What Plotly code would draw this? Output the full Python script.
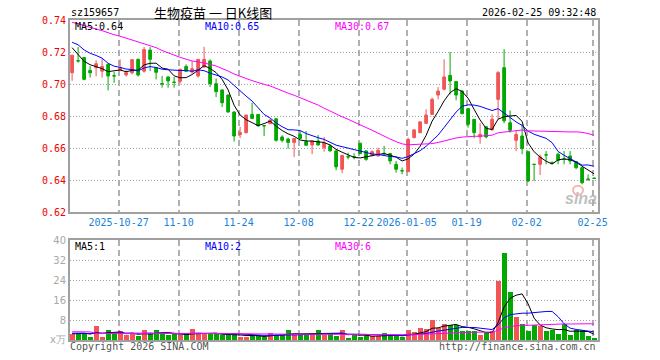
import plotly.graph_objects as go
import pandas as pd

# ---------------- data ----------------
tick_labels = ["2025-10-27", "11-10", "11-24", "12-08", "12-22", "2026-01-05", "01-19", "02-02", "02-25"]
tick_index = [8, 18, 28, 38, 48, 56, 66, 76, 87]

opens = [0.7070, 0.7146, 0.7165, 0.7085, 0.7102, 0.7080, 0.7123, 0.7052, 0.7088, 0.7057,
         0.7070, 0.7154, 0.7080, 0.7212, 0.7102, 0.7003, 0.7044, 0.7012, 0.7017, 0.7110,
         0.7075, 0.7050, 0.7106, 0.7144, 0.7002, 0.6963, 0.6931, 0.6825, 0.6685, 0.6696,
         0.6810, 0.6810, 0.6740, 0.6752, 0.6783, 0.6669, 0.6656, 0.6635, 0.6685, 0.6640,
         0.6619, 0.6644, 0.6602, 0.6613, 0.6582, 0.6467, 0.6546, 0.6546, 0.6630, 0.6582,
         0.6554, 0.6550, 0.6567, 0.6565, 0.6498, 0.6459, 0.6452, 0.6665, 0.6696, 0.6754,
         0.6810, 0.6931, 0.6967, 0.7054, 0.7015, 0.6956, 0.6846, 0.6779, 0.6669, 0.6733,
         0.6713, 0.6904, 0.7102, 0.6758, 0.6648, 0.6675, 0.6577, 0.6499, 0.6498, 0.6558,
         0.6510, 0.6561, 0.6531, 0.6550, 0.6515, 0.6477, 0.6406, 0.6412]
highs = [0.7180, 0.7231, 0.7170, 0.7113, 0.7148, 0.7160, 0.7125, 0.7075, 0.7154, 0.7085,
         0.7154, 0.7160, 0.7231, 0.7231, 0.7106, 0.7050, 0.7048, 0.7044, 0.7095, 0.7123,
         0.7144, 0.7154, 0.7233, 0.7154, 0.7035, 0.6965, 0.6935, 0.6830, 0.6733, 0.6808,
         0.6883, 0.6812, 0.6740, 0.6780, 0.6785, 0.6680, 0.6665, 0.6662, 0.6706, 0.6706,
         0.6644, 0.6681, 0.6669, 0.6623, 0.6590, 0.6556, 0.6571, 0.6567, 0.6632, 0.6585,
         0.6585, 0.6602, 0.6613, 0.6570, 0.6519, 0.6478, 0.6665, 0.6717, 0.6767, 0.6842,
         0.6915, 0.6981, 0.7154, 0.7200, 0.7017, 0.6960, 0.6848, 0.6780, 0.6756, 0.6735,
         0.6811, 0.7081, 0.7217, 0.6835, 0.6711, 0.6748, 0.6578, 0.6499, 0.6560, 0.6581,
         0.6515, 0.6571, 0.6581, 0.6581, 0.6519, 0.6480, 0.6435, 0.6414]
lows = [0.7020, 0.7133, 0.7023, 0.7040, 0.7048, 0.7040, 0.6960, 0.7008, 0.7080, 0.7046,
        0.7060, 0.7046, 0.7071, 0.7081, 0.7029, 0.6977, 0.6977, 0.6977, 0.7002, 0.7077,
        0.7065, 0.7040, 0.7100, 0.6981, 0.6919, 0.6856, 0.6821, 0.6640, 0.6662, 0.6690,
        0.6780, 0.6735, 0.6675, 0.6750, 0.6640, 0.6635, 0.6596, 0.6544, 0.6655, 0.6615,
        0.6561, 0.6615, 0.6577, 0.6578, 0.6461, 0.6442, 0.6529, 0.6529, 0.6562, 0.6520,
        0.6548, 0.6548, 0.6550, 0.6498, 0.6446, 0.6436, 0.6450, 0.6660, 0.6692, 0.6750,
        0.6808, 0.6904, 0.6961, 0.6935, 0.6898, 0.6810, 0.6727, 0.6661, 0.6627, 0.6661,
        0.6710, 0.6780, 0.6755, 0.6696, 0.6581, 0.6561, 0.6388, 0.6394, 0.6431, 0.6498,
        0.6498, 0.6498, 0.6498, 0.6498, 0.6467, 0.6373, 0.6394, 0.6408]
closes = [0.7180, 0.7144, 0.7029, 0.7070, 0.7127, 0.7110, 0.7050, 0.7050, 0.7102, 0.7071,
          0.7152, 0.7056, 0.7215, 0.7154, 0.7073, 0.7000, 0.7019, 0.7010, 0.7092, 0.7079,
          0.7095, 0.7154, 0.7154, 0.7002, 0.6952, 0.6883, 0.6825, 0.6675, 0.6696, 0.6806,
          0.6785, 0.6738, 0.6738, 0.6775, 0.6648, 0.6648, 0.6635, 0.6660, 0.6660, 0.6617,
          0.6644, 0.6619, 0.6631, 0.6582, 0.6482, 0.6554, 0.6544, 0.6544, 0.6565, 0.6529,
          0.6577, 0.6586, 0.6565, 0.6519, 0.6467, 0.6457, 0.6654, 0.6713, 0.6763, 0.6806,
          0.6904, 0.6956, 0.7044, 0.7019, 0.6931, 0.6815, 0.6748, 0.6696, 0.6685, 0.6669,
          0.6780, 0.7071, 0.6770, 0.6711, 0.6685, 0.6596, 0.6394, 0.6497, 0.6544, 0.6556,
          0.6508, 0.6523, 0.6529, 0.6519, 0.6477, 0.6383, 0.6404, 0.6410]
volumes = [2.5, 2.9, 2.9, 1.1, 5.4, 1.1, 3.8, 2.5, 3.4, 1.8,
           2.2, 1.5, 3.8, 2.5, 3.8, 2.9, 1.8, 2.2, 1.8, 2.2,
           4.2, 2.5, 2.5, 2.5, 2.2, 1.8, 2.1, 2.9, 1.1, 1.1,
           1.8, 1.8, 1.1, 2.9, 2.1, 2.1, 3.8, 1.8, 2.5, 2.1,
           2.5, 3.8, 1.8, 2.9, 1.4, 3.8, 0.7, 2.5, 1.1, 1.8,
           1.5, 1.5, 2.9, 2.1, 1.4, 1.1, 3.8, 3.1, 4.6, 4.2,
           7.8, 4.7, 6.5, 6.1, 6.1, 3.4, 3.4, 3.4, 1.8, 2.9,
           3.5, 23.4, 34.6, 19.1, 9.1, 6.2, 3.5, 5.9, 5.4, 3.5,
           3.8, 2.2, 6.2, 1.8, 3.8, 3.8, 1.4, 0.7]

# estimated history before the visible window (only used for the moving averages)
hist_closes = [0.736, 0.740, 0.744, 0.739, 0.743, 0.745, 0.741, 0.738, 0.742, 0.747,
               0.752, 0.749, 0.746, 0.750, 0.754, 0.748, 0.745, 0.747, 0.743, 0.744,
               0.7304, 0.735, 0.728, 0.726, 0.728, 0.737, 0.723, 0.7175, 0.718]
hist_volumes = [2.8, 3.1, 2.4, 24.0, 3.5, 2.6, 2.2, 2.9, 2.4, 3.0,
                2.5, 2.1, 2.7, 2.9, 2.3, 2.6, 2.2, 2.8, 2.5, 2.5,
                2.1, 2.6, 2.0, 2.5, 2.3, 3.0, 2.6, 2.9, 2.5]

price_legend = ["MA5:0.64", "MA10:0.65", "MA30:0.67"]
vol_legend = ["MA5:1", "MA10:2", "MA30:6"]
price_ticks = [0.62, 0.64, 0.66, 0.68, 0.70, 0.72, 0.74]
vol_ticks = [0, 8, 16, 24, 32, 40]
vol_ticktext = ["x万", "8", "16", "24", "32", "40"]

# ---------------- styling ----------------
RED = "#f25555"
GREEN = "#00a800"
MA_COLORS = ["#000000", "#0000ff", "#ff00ff"]
MONO = "DejaVu Sans Mono"

n = len(closes)
idx = list(range(n))
nh = len(hist_closes)
allc = pd.Series(hist_closes + closes)
allv = pd.Series(hist_volumes + volumes)
ma_p = [allc.rolling(w).mean().iloc[nh:].tolist() for w in (5, 10, 30)]
ma_v = [allv.rolling(w).mean().iloc[nh:].tolist() for w in (5, 10, 30)]

vol_colors = [RED if c >= o else GREEN for o, c in zip(opens, closes)]

fig = go.Figure()
fig.add_trace(go.Candlestick(
    x=idx, open=opens, high=highs, low=lows, close=closes,
    increasing=dict(line=dict(color=RED, width=1), fillcolor=RED),
    decreasing=dict(line=dict(color=GREEN, width=1), fillcolor=GREEN),
    whiskerwidth=0, xaxis="x", yaxis="y", hoverinfo="skip", showlegend=False))
for m, col in zip(ma_p, MA_COLORS):
    fig.add_trace(go.Scatter(x=idx, y=m, mode="lines", line=dict(color=col, width=1),
                             xaxis="x", yaxis="y", hoverinfo="skip", showlegend=False))
fig.add_trace(go.Bar(x=idx, y=volumes, marker=dict(color=vol_colors, line=dict(width=0)),
                     width=0.8, xaxis="x2", yaxis="y2", hoverinfo="skip", showlegend=False))
for m, col in zip(ma_v, MA_COLORS):
    fig.add_trace(go.Scatter(x=idx, y=m, mode="lines", line=dict(color=col, width=1),
                             xaxis="x2", yaxis="y2", hoverinfo="skip", showlegend=False))

L, R, T, B = 70, 62, 20, 19.5
W, H = 660, 360
pw, ph = W - L - R, H - T - B

def px(x):
    return (x - L) / pw

def py(y):
    return (H - B - y) / ph

xr = [-0.35, 87.65]
tv = [i - 0.25 for i in tick_index]
axis_common = dict(showline=True, mirror=True, linecolor="#a0a0a0", linewidth=2,
                   zeroline=False, ticks="")
fig.update_layout(
    width=W, height=H, margin=dict(l=L, r=R, t=T, b=B),
    paper_bgcolor="white", plot_bgcolor="white", showlegend=False,
    hovermode=False, boxgap=0.35, bargap=0,
    xaxis=dict(domain=[0, 1], anchor="y", range=xr, tickvals=tv, ticktext=tick_labels,
               tickfont=dict(family=MONO, size=10, color="#1c7fd8"),
               showgrid=True, gridcolor="#b0b0b0", griddash="6px,4px", gridwidth=1.5,
               rangeslider=dict(visible=False), **axis_common),
    yaxis=dict(domain=[py(212.3), 1], anchor="x", range=[0.62, 0.74], tickvals=price_ticks,
               ticktext=["%.2f" % v for v in price_ticks],
               tickfont=dict(family=MONO, size=10, color="#ee0000"),
               showgrid=True, gridcolor="#a0a0a0", griddash="1px,2px", gridwidth=1,
               **axis_common),
    xaxis2=dict(domain=[0, 1], anchor="y2", range=xr, tickvals=tv, showticklabels=False,
                showgrid=True, gridcolor="#b0b0b0", griddash="6px,4px", gridwidth=1.5,
                **axis_common),
    yaxis2=dict(domain=[0, py(240.5)], anchor="x2", range=[0, 40], tickvals=vol_ticks,
                ticktext=vol_ticktext,
                tickfont=dict(family="DejaVu Sans", size=10, color="#a8a8a8"),
                showgrid=True, gridcolor="#a0a0a0", griddash="1px,2px", gridwidth=1,
                **axis_common),
)

ann = []
def text(x, y, s, color="#000", size=10, anchor="left", family=MONO):
    ann.append(dict(x=px(x), y=py(y), xref="paper", yref="paper", text=s, showarrow=False,
                    xanchor=anchor, yanchor="middle", borderpad=0,
                    font=dict(family=family, size=size, color=color)))

text(70, 12.5, "sz159657")
text(212.5, 12, "生物疫苗 一 日K线图", size=13, anchor="center", family="Noto Sans CJK SC")
text(597, 12.5, "2026-02-25 09:32:48", anchor="right")
for s, x, col in zip(price_legend, [74, 204, 334], MA_COLORS):
    text(x, 26.5, s, color=col)
for s, x, col in zip(vol_legend, [74, 204, 334], MA_COLORS):
    text(x, 246.5, s, color=col)
text(69, 347, "Copyright 2026 SINA.COM", color="#555555")
text(597, 347, "http://finance.sina.com.cn", color="#555555", anchor="right")
text(581, 199, "<b><i>sina</i></b>", color="rgba(170,170,170,0.75)", size=16, anchor="center",
     family="Liberation Sans")
fig.update_layout(annotations=ann)
fig.add_shape(type="circle", xref="paper", yref="paper",
              x0=px(573), x1=px(583), y0=py(195), y1=py(186),
              line=dict(color="rgba(240,150,150,0.7)", width=2))

fig.write_html("out.html")
